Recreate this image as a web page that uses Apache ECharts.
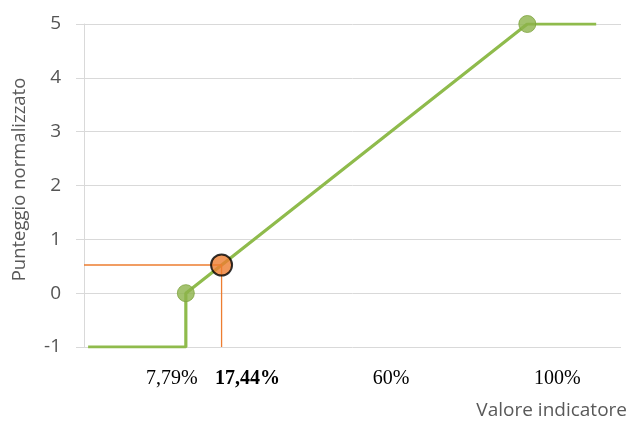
<!DOCTYPE html>
<html>
<head>
<meta charset="utf-8">
<script src="https://cdn.jsdelivr.net/npm/echarts@6/dist/echarts.min.js"></script>
<style>
  html, body { margin: 0; padding: 0; background: #ffffff; }
  #chart { width: 628px; height: 423px; }
</style>
</head>
<body>
<div id="chart"></div>
<script>
// Scoring curve: indicator value (%) -> normalised score
const curveX = [-18.6, 7.79, 7.79, 100, 118.6];
const curveY = [-1, -1, 0, 5, 5];

// Threshold markers on the curve
const thresholdX = [7.79, 100];
const thresholdY = [0, 5];

// Observed indicator value and its normalised score
const observedX = 17.44;
const observedY = (observedX - 7.79) / (100 - 7.79) * 5;

// X-axis tick values and their labels
const tickValues = [7.79, 17.44, 60, 100];
const tickLabels = ['7,79%', '17,44%', '60%', '100%'];
const tickStyles = ['a', 'b', 'c', 'd'];

const curveData = curveX.map((x, i) => [x, curveY[i]]);
const thresholdData = thresholdX.map((x, i) => [x, thresholdY[i]]);
const X_MIN = -19.71, X_MAX = 125.3;
const guideData = [[X_MIN, observedY], [observedX, observedY], [observedX, -1]];

const serif = '"Liberation Serif", "Times New Roman", serif';
const sans = '"Open Sans", sans-serif';
const chart = echarts.init(document.getElementById('chart'));
chart.setOption({
  animation: false,
  grid: { left: 84, right: 7, top: 24, bottom: 76 },
  xAxis: {
    type: 'value',
    min: X_MIN,
    max: X_MAX,
    axisLine: { show: false },
    axisTick: { show: false },
    splitLine: { show: false },
    axisLabel: {
      customValues: tickValues,
      margin: 22,
      formatter: (v) => {
        const i = tickValues.indexOf(v);
        return i < 0 ? '' : '{' + tickStyles[i] + '|' + tickLabels[i] + '}';
      },
      rich: {
        a: { fontFamily: serif, fontSize: 20, color: '#000', padding: [0, 28, 0, 0] },
        b: { fontFamily: serif, fontSize: 20, color: '#000', fontWeight: 'bold', padding: [0, 0, 0, 52] },
        c: { fontFamily: serif, fontSize: 20, color: '#000', padding: [0, 0, 0, 24] },
        d: { fontFamily: serif, fontSize: 20, color: '#000', padding: [0, 0, 0, 60] }
      }
    }
  },
  yAxis: {
    type: 'value',
    min: -1,
    max: 5,
    interval: 1,
    name: 'Punteggio normalizzato',
    nameLocation: 'middle',
    nameGap: 55,
    nameTextStyle: { fontFamily: sans, fontSize: 18.5, color: '#595959', padding: [0, 0, 0, 12] },
    axisLine: { show: true, onZero: false, lineStyle: { color: '#d9d9d9', width: 1 } },
    axisTick: { show: true, inside: false, length: 8, lineStyle: { color: '#d9d9d9' } },
    axisLabel: {
      margin: 23,
      fontFamily: sans,
      fontSize: 19,
      color: '#555555'
    },
    splitLine: { show: true, lineStyle: { color: '#d9d9d9', width: 1 } }
  },
  graphic: [{
    type: 'text',
    right: 1,
    top: 401,
    style: {
      text: 'Valore indicatore',
      fontFamily: sans,
      fontSize: 19,
      fill: '#595959'
    }
  }],
  series: [
    {
      type: 'line',
      data: curveData,
      showSymbol: false,
      lineStyle: { color: '#8fbb4c', width: 3.2 },
      z: 2
    },
    {
      type: 'scatter',
      data: thresholdData,
      symbolSize: 17,
      itemStyle: { color: '#8cb34a', borderColor: '#7ea43f', borderWidth: 1 },
      z: 3
    },
    {
      type: 'line',
      data: guideData,
      showSymbol: false,
      lineStyle: { color: '#ed7d31', width: 1.3 },
      z: 4
    },
    {
      type: 'scatter',
      data: [[observedX, observedY]],
      symbolSize: 21,
      itemStyle: { color: '#ed7d31', borderColor: '#000000', borderWidth: 2 },
      z: 5
    }
  ]
});
</script>
</body>
</html>
